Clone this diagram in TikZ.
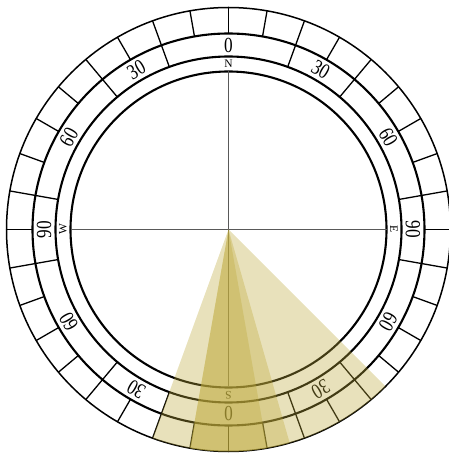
\documentclass[tikz,border=0pt]{standalone}
\usepackage{fontspec}
\setmainfont{Liberation Serif}
\begin{document}
\begin{tikzpicture}[x=1pt,y=1pt,
  outerring/.style={line width=1.5pt},
  ring/.style={line width=2.1pt},
  tickline/.style={line width=1.3pt},
  crossline/.style={line width=0.9pt, draw=black!65},
  numlab/.style={font=\fontsize{21.5}{21.5}\selectfont, inner sep=0pt},
  dirlab/.style={font=\fontsize{11.5}{11.5}\selectfont, inner sep=0pt},
  wedge/.style={fill={rgb,255:red,190;green,170;blue,60}, fill opacity=0.35}
]
\useasboundingbox (0,0) rectangle (449,453);
\coordinate (O) at (228.5,223.5);
% rings
\draw[outerring] (O) circle (222);
\draw[ring] (O) circle (196);
\draw[ring] (O) circle (173);
\draw[ring] (O) circle (158);
% outer ticks every 10 degrees
\foreach \a in {0,10,...,350}
  \draw[tickline] ([shift={(90-\a:196)}]O) -- ([shift={(90-\a:222)}]O);
% number ring separators
\foreach \a in {20,40,80,100,140,160,200,220,260,280,320,340}
  \draw[tickline] ([shift={(90-\a:173)}]O) -- ([shift={(90-\a:196)}]O);
% cross lines
\coordinate (cw) at ([shift={(180:158)}]O);
\coordinate (ce) at ([shift={(0:158)}]O);
\coordinate (cn) at ([shift={(90:158)}]O);
\coordinate (cs) at ([shift={(270:158)}]O);
\draw[crossline] (cw) -- (ce);
\draw[crossline] (cn) -- (cs);
% numbers
\foreach \a/\t in {0/0,30/30,60/60,90/90,120/60,150/30,180/0,210/30,240/60,270/90,300/60,330/30}
  \node[numlab, rotate=-\a] (n\a) at ([shift={(90-\a:184.5)}]O) {\scalebox{0.8}[1]{\t}};
% directions
\foreach \a/\t in {0/N,90/E,180/S,270/W}
  \node[dirlab, rotate=-\a] (d\t) at ([shift={(90-\a:165.5)}]O) {\t};
% shaded wedges
\fill[wedge] (O) -- ([shift={(250:222)}]O) arc[start angle=250, end angle=315, radius=222] -- cycle;
\fill[wedge] (O) -- ([shift={(260:222)}]O) arc[start angle=260, end angle=286, radius=222] -- cycle;
\fill[wedge] (O) -- ([shift={(260:222)}]O) arc[start angle=260, end angle=280, radius=222] -- cycle;
\end{tikzpicture}
\end{document}
